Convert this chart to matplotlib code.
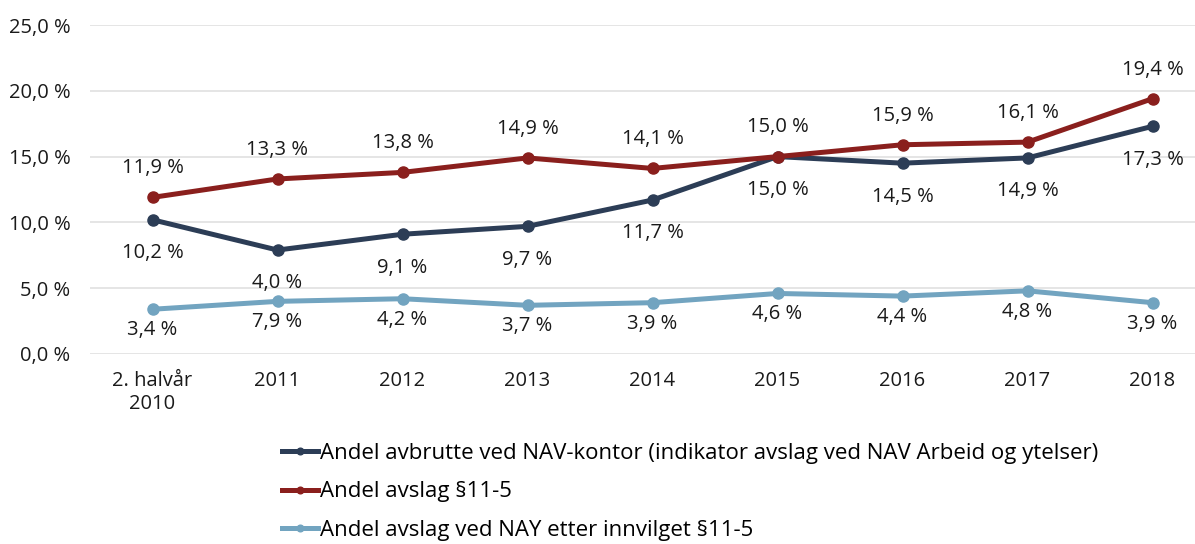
import matplotlib.pyplot as plt

plt.rcParams['font.family'] = ['Open Sans', 'DejaVu Sans']

categories = ['2. halvår\n2010', '2011', '2012', '2013', '2014', '2015', '2016', '2017', '2018']
avbrutte = [10.2, 7.9, 9.1, 9.7, 11.7, 15.0, 14.5, 14.9, 17.3]
avslag = [11.9, 13.3, 13.8, 14.9, 14.1, 15.0, 15.9, 16.1, 19.4]
nay = [3.4, 4.0, 4.2, 3.7, 3.9, 4.6, 4.4, 4.8, 3.9]
# datalabels as printed in the original (2011 labels are swapped there)
avbrutte_labels = ['10,2 %', '4,0 %', '9,1 %', '9,7 %', '11,7 %', '15,0 %', '14,5 %', '14,9 %', '17,3 %']
avslag_labels = ['11,9 %', '13,3 %', '13,8 %', '14,9 %', '14,1 %', '15,0 %', '15,9 %', '16,1 %', '19,4 %']
nay_labels = ['3,4 %', '7,9 %', '4,2 %', '3,7 %', '3,9 %', '4,6 %', '4,4 %', '4,8 %', '3,9 %']

c_dark = '#2C3D56'
c_red = '#8A1F1D'
c_light = '#72A4C0'

fig = plt.figure(figsize=(11.95, 5.44), dpi=100)
ax = fig.add_axes([90 / 1195, 1 - 354 / 544, 1125 / 1195, 329 / 544])
x = range(len(categories))

ax.plot(x, avbrutte, c=c_dark, lw=3.6, marker='o', ms=8,
        label='Andel avbrutte ved NAV-kontor (indikator avslag ved NAV Arbeid og ytelser)')
ax.plot(x, avslag, c=c_red, lw=3.6, marker='o', ms=8, label='Andel avslag §11-5')
ax.plot(x, nay, c=c_light, lw=3.6, marker='o', ms=8, label='Andel avslag ved NAY etter innvilget §11-5')

for i in x:
    ax.annotate(avslag_labels[i], (i, avslag[i]), xytext=(0, 21), textcoords='offset points',
                ha='center', va='center', fontsize=14.5, color='#1a1a1a')
    ax.annotate(avbrutte_labels[i], (i, avbrutte[i]), xytext=(0, -24), textcoords='offset points',
                ha='center', va='center', fontsize=14.5, color='#1a1a1a')
    ax.annotate(nay_labels[i], (i, nay[i]), xytext=(0, -15), textcoords='offset points',
                ha='center', va='center', fontsize=14.5, color='#1a1a1a')

ax.set_ylim(0, 25)
ax.set_xlim(-0.5, 8.5)
ax.set_yticks([0, 5, 10, 15, 20, 25])
ax.set_yticklabels(['0,0 %', '5,0 %', '10,0 %', '15,0 %', '20,0 %', '25,0 %'])
ax.set_xticks(list(x))
ax.set_xticklabels(categories)
ax.tick_params(axis='y', length=0, labelsize=14.5, colors='#1a1a1a', pad=14)
ax.tick_params(axis='x', length=0, labelsize=14.5, colors='#1a1a1a', pad=12)
ax.grid(axis='y', color='#e0e0e0', lw=1.2)
ax.set_axisbelow(True)
for s in ax.spines.values():
    s.set_visible(False)

fig.legend(loc='upper left', bbox_to_anchor=(262 / 1195, 1 - 423 / 544), frameon=False,
           fontsize=16, handlelength=1.6, handletextpad=0.1, labelspacing=0.78, markerscale=0.6)

fig.savefig('out.png', dpi=100)
